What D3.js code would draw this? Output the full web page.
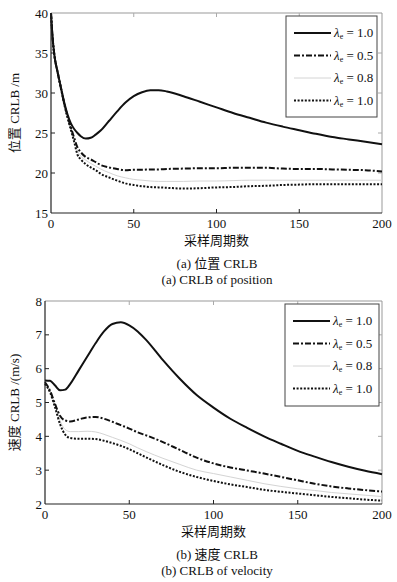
<!DOCTYPE html>
<html>
<head>
<meta charset="utf-8">
<script src="https://cdn.jsdelivr.net/npm/d3@7"></script>
<style>
  body { margin: 0; background: #fff; }
  svg { display: block; }
</style>
</head>
<body>
<svg id="chart" width="397" height="582"></svg>
<script>
// ---- data ----
const posX = [0,1,2,4,6,8,10,12,14,16,18,21,24,27,30,35,40,45,50,55,60,65,70,80,90,100,110,120,130,140,150,160,170,180,190,200];
const posA = [40,36.8,34.8,32.6,30.7,28.8,27.3,26.2,25.5,25.0,24.6,24.3,24.4,24.8,25.3,26.5,27.7,28.8,29.6,30.1,30.35,30.35,30.2,29.6,28.9,28.2,27.5,26.9,26.3,25.8,25.35,24.9,24.5,24.2,23.9,23.6];
const posB = [40,36.8,34.8,32.6,30.6,28.7,27.1,25.7,24.4,23.2,22.6,22.0,21.7,21.35,21.0,20.7,20.5,20.35,20.4,20.4,20.45,20.45,20.5,20.55,20.6,20.6,20.65,20.65,20.65,20.55,20.5,20.5,20.45,20.4,20.35,20.2];
const posC = [40,36.8,34.8,32.6,30.6,28.7,27.0,25.6,24.2,22.8,22.1,21.6,21.2,20.85,20.5,20.05,19.65,19.4,19.2,19.1,19.0,18.95,18.95,18.95,19.0,19.0,19.05,19.1,19.1,19.1,19.1,19.1,19.1,19.1,19.1,19.1];
const posD = [40,36.8,34.8,32.6,30.6,28.6,26.9,25.4,23.9,22.3,21.7,21.1,20.7,20.35,19.9,19.45,19.05,18.7,18.5,18.35,18.25,18.2,18.15,18.05,18.1,18.2,18.25,18.35,18.4,18.5,18.55,18.6,18.6,18.6,18.6,18.6];

const velX = [0,3,6,9,12,15,20,25,30,35,40,45,50,55,60,70,80,90,100,110,120,130,140,150,160,170,180,190,200];
const velA = [5.65,5.64,5.5,5.36,5.38,5.55,5.95,6.35,6.75,7.1,7.32,7.37,7.28,7.1,6.85,6.25,5.7,5.22,4.85,4.52,4.25,4.0,3.78,3.57,3.4,3.24,3.1,2.98,2.88];
const velB = [5.6,5.35,4.95,4.6,4.47,4.44,4.5,4.56,4.57,4.52,4.43,4.33,4.23,4.12,4.03,3.83,3.6,3.37,3.2,3.08,2.99,2.9,2.8,2.7,2.6,2.52,2.46,2.41,2.37];
const velC = [5.6,5.35,4.9,4.45,4.2,4.14,4.14,4.15,4.13,4.06,3.97,3.88,3.78,3.66,3.55,3.35,3.17,3.0,2.9,2.8,2.7,2.6,2.52,2.45,2.4,2.34,2.3,2.26,2.22];
const velD = [5.55,5.3,4.85,4.35,4.05,3.95,3.93,3.93,3.92,3.87,3.8,3.72,3.62,3.5,3.38,3.15,2.95,2.8,2.68,2.58,2.5,2.42,2.36,2.31,2.26,2.21,2.17,2.13,2.1];

const legendVals = ["1.0", "0.5", "0.8", "1.0"];
const xTicks = [0, 50, 100, 150, 200];
const posTicks = [15, 20, 25, 30, 35, 40];
const velTicks = [2, 3, 4, 5, 6, 7, 8];

const FONT = "'Liberation Serif', 'Times New Roman', 'DejaVu Serif', 'Noto Sans CJK SC', serif";

const styles = [
  { stroke: "#111", width: 2, dash: null },
  { stroke: "#111", width: 2, dash: "6,2,2,2" },
  { stroke: "#d4d4d4", width: 1, dash: null },
  { stroke: "#111", width: 2, dash: "2,1.6" }
];

const svg = d3.select("#chart")
  .attr("font-family", FONT)
  .style("font-family", FONT);

function panel(cfg) {
  const x = d3.scaleLinear().domain([0, 200]).range([cfg.left, cfg.right]);
  const y = d3.scaleLinear().domain(cfg.yDomain).range([cfg.bottom, cfg.top]);
  const g = svg.append("g");

  // frame: top/right light, left/bottom dark
  g.append("line").attr("x1", cfg.left).attr("x2", cfg.right).attr("y1", cfg.top).attr("y2", cfg.top)
    .attr("stroke", "#999").attr("stroke-width", 1);
  g.append("line").attr("x1", cfg.right).attr("x2", cfg.right).attr("y1", cfg.top).attr("y2", cfg.bottom)
    .attr("stroke", "#999").attr("stroke-width", 1);

  // inner ticks on all sides
  xTicks.slice(1, -1).forEach(t => {
    g.append("line").attr("x1", x(t)).attr("x2", x(t)).attr("y1", cfg.bottom).attr("y2", cfg.bottom - 4)
      .attr("stroke", "#222");
    g.append("line").attr("x1", x(t)).attr("x2", x(t)).attr("y1", cfg.top).attr("y2", cfg.top + 4)
      .attr("stroke", "#aaa");
  });
  cfg.yTicks.slice(1, -1).forEach(t => {
    g.append("line").attr("x1", cfg.left).attr("x2", cfg.left + 4).attr("y1", y(t)).attr("y2", y(t))
      .attr("stroke", "#222");
    g.append("line").attr("x1", cfg.right).attr("x2", cfg.right - 4).attr("y1", y(t)).attr("y2", y(t))
      .attr("stroke", "#aaa");
  });

  // curves
  const line = d3.line()
    .x(d => x(d[0]))
    .y(d => y(d[1]))
    .curve(d3.curveMonotoneX);

  const order = [2, 1, 3, 0];
  order.forEach(i => {
    const pts = cfg.xs.map((v, k) => [v, cfg.series[i][k]]);
    g.append("path")
      .datum(pts)
      .attr("fill", "none")
      .attr("stroke", styles[i].stroke)
      .attr("stroke-width", styles[i].width)
      .attr("stroke-dasharray", styles[i].dash)
      .attr("d", line);
  });

  g.append("line").attr("x1", cfg.left).attr("x2", cfg.left).attr("y1", cfg.top).attr("y2", cfg.bottom)
    .attr("stroke", "#222").attr("stroke-width", 1.2);
  g.append("line").attr("x1", cfg.left).attr("x2", cfg.right).attr("y1", cfg.bottom).attr("y2", cfg.bottom)
    .attr("stroke", "#222").attr("stroke-width", 1.2);

  // tick labels
  g.selectAll(".xt").data(xTicks).enter().append("text")
    .attr("x", d => x(d)).attr("y", cfg.bottom + 15)
    .attr("text-anchor", "middle").attr("font-size", 13).attr("fill", "#111").text(d => d);
  g.selectAll(".yt").data(cfg.yTicks).enter().append("text")
    .attr("x", cfg.left - 3).attr("y", d => y(d) + 4.5)
    .attr("text-anchor", "end").attr("font-size", 13).attr("fill", "#111").text(d => d);

  // axis titles
  g.append("text").attr("x", (cfg.left + cfg.right) / 2).attr("y", cfg.bottom + 32)
    .attr("text-anchor", "middle").attr("font-size", 13).attr("fill", "#111").text("采样周期数");
  g.append("text")
    .attr("transform", `translate(${cfg.yLabelX},${(cfg.top + cfg.bottom) / 2}) rotate(-90)`)
    .attr("text-anchor", "middle").attr("font-size", 13).attr("fill", "#111").text(cfg.yLabel);

  // captions
  g.append("text").attr("x", 217).attr("y", cfg.bottom + 55)
    .attr("text-anchor", "middle").attr("font-size", 13).attr("fill", "#111").text(cfg.cap1);
  g.append("text").attr("x", 217).attr("y", cfg.bottom + 71)
    .attr("text-anchor", "middle").attr("font-size", 13).attr("fill", "#111").text(cfg.cap2);

  // legend
  const L = cfg.legend;
  g.append("rect").attr("x", L.x).attr("y", L.y).attr("width", L.w).attr("height", L.h)
    .attr("fill", "#fff").attr("stroke", "#444").attr("stroke-width", 1);
  legendVals.forEach((v, i) => {
    const ly = L.y + 17 + i * 22.5;
    g.append("line").attr("x1", L.x + 8).attr("x2", L.x + 45).attr("y1", ly).attr("y2", ly)
      .attr("stroke", styles[i].stroke).attr("stroke-width", styles[i].width)
      .attr("stroke-dasharray", styles[i].dash);
    const t = g.append("text").attr("x", L.x + 48).attr("y", ly + 4).attr("font-size", 13).attr("fill", "#111");
    t.append("tspan").attr("font-style", "italic").text("λ");
    t.append("tspan").attr("font-size", 8).attr("dy", 2).text("e");
    t.append("tspan").attr("dy", -2).text(" = " + v);
  });
}

panel({
  left: 51, right: 382, top: 13, bottom: 213,
  yDomain: [15, 40], yTicks: posTicks,
  xs: posX, series: [posA, posB, posC, posD],
  yLabel: "位置 CRLB /m", yLabelX: 19,
  cap1: "(a) 位置 CRLB", cap2: "(a) CRLB of position",
  legend: { x: 286, y: 16, w: 91, h: 101 }
});

panel({
  left: 45, right: 382, top: 301, bottom: 504,
  yDomain: [2, 8], yTicks: velTicks,
  xs: velX, series: [velA, velB, velC, velD],
  yLabel: "速度 CRLB /(m/s)", yLabelX: 19,
  cap1: "(b) 速度 CRLB", cap2: "(b) CRLB of velocity",
  legend: { x: 285, y: 304, w: 94, h: 102 }
});
</script>
</body>
</html>
